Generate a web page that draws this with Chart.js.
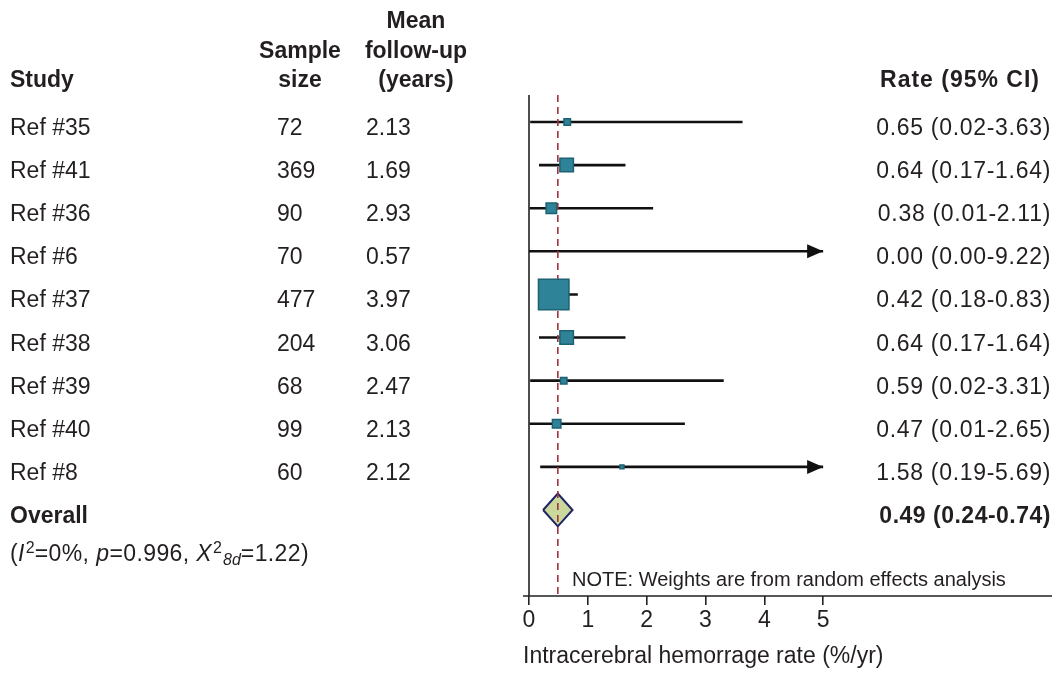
<!DOCTYPE html>
<html><head><meta charset="utf-8">
<script src="https://cdn.jsdelivr.net/npm/chart.js@4/dist/chart.umd.min.js"></script>
<style>html,body{margin:0;padding:0;background:#fff}canvas{display:block}</style>
</head><body>
<canvas id="c" width="1060" height="675"></canvas>
<script>
// ---------- data ----------
const studies    = ['Ref #35','Ref #41','Ref #36','Ref #6','Ref #37','Ref #38','Ref #39','Ref #40','Ref #8'];
const sampleSize = [72, 369, 90, 70, 477, 204, 68, 99, 60];
const followUp   = [2.13, 1.69, 2.93, 0.57, 3.97, 3.06, 2.47, 2.13, 2.12];
const rate       = [0.65, 0.64, 0.38, 0.00, 0.42, 0.64, 0.59, 0.47, 1.58];
const ciLow      = [0.02, 0.17, 0.01, 0.00, 0.18, 0.17, 0.02, 0.01, 0.19];
const ciHigh     = [3.63, 1.64, 2.11, 9.22, 0.83, 1.64, 3.31, 2.65, 5.69];
const weightPct  = [3.4, 12.0, 7.7, 0, 54.6, 12.0, 3.4, 5.3, 1.6];
const overall    = {rate: 0.49, low: 0.24, high: 0.74};
const hetero     = {I2: '0%', p: '0.996', df: '8d', chi2: '1.22'};
const xTicks     = [0, 1, 2, 3, 4, 5];
const arrowCap   = 5;
const xTitle     = 'Intracerebral hemorrage rate (%/yr)';
const noteText   = 'NOTE: Weights are from random effects analysis';

// ---------- style ----------
const FONT = '"Liberation Sans", Arial, Helvetica, sans-serif';
const TXT = '#231f20';
const BOX_FILL = '#2e8399', BOX_EDGE = '#1d6173';
const overallRow = studies.length;
const rowSpan = [-0.626, 10.995];
const diamondHalf = 0.38;

const datasets = [];
studies.forEach((s, i) => {
  datasets.push({
    label: 'ci' + i,
    data: [{x: ciLow[i], y: i}, {x: Math.min(ciHigh[i], arrowCap), y: i}],
    borderColor: '#111', borderWidth: 2.6, pointRadius: 0, fill: false, order: 5
  });
});
datasets.push({
  label: 'overall',
  data: [{x: overall.low, y: overallRow}, {x: overall.rate, y: overallRow - diamondHalf},
         {x: overall.high, y: overallRow}, {x: overall.rate, y: overallRow + diamondHalf},
         {x: overall.low, y: overallRow}],
  borderColor: '#1f2466', borderWidth: 2, backgroundColor: '#cbd89c',
  pointRadius: 0, fill: 'shape', order: 4
});
datasets.push({
  label: 'ref',
  data: [{x: overall.rate, y: rowSpan[0]}, {x: overall.rate, y: rowSpan[1]}],
  borderColor: '#a5313f', borderWidth: 1.6, borderDash: [7, 5], pointRadius: 0, fill: false, order: 3
});
datasets.push({
  label: 'boxes',
  data: studies.map((s, i) => ({x: rate[i], y: i})),
  showLine: false,
  pointStyle: 'rect',
  pointRadius: studies.map((s, i) => weightPct[i] > 0 ? (4.33 * Math.sqrt(weightPct[i]) - 1.5) / Math.SQRT2 : 0),
  pointBackgroundColor: BOX_FILL, pointBorderColor: BOX_EDGE, pointBorderWidth: 1.5,
  order: 1
});

function txt(ctx, s, x, y, opts = {}) {
  ctx.font = (opts.style || '') + ' ' + (opts.weight || 'normal') + ' ' + (opts.size || 23) + 'px ' + FONT;
  ctx.textAlign = opts.align || 'left';
  ctx.textBaseline = 'alphabetic';
  ctx.fillStyle = opts.color || TXT;
  ctx.letterSpacing = (opts.ls || 0) + 'px';
  ctx.fillText(s, x, y);
  const w = ctx.measureText(s).width;
  ctx.letterSpacing = '0px';
  return w;
}

const forest = {
  id: 'forest',
  beforeDatasetsDraw(chart) {
    const {ctx, scales: {x, y}, chartArea} = chart;
    ctx.save();
    ctx.strokeStyle = '#222'; ctx.lineWidth = 1.6;
    ctx.beginPath();
    ctx.moveTo(x.getPixelForValue(0), chartArea.top);
    ctx.lineTo(x.getPixelForValue(0), chartArea.bottom);
    ctx.moveTo(x.getPixelForValue(0) - 6, chartArea.bottom);
    ctx.lineTo(chartArea.right, chartArea.bottom);
    ctx.stroke();
    ctx.restore();
  },
  afterDatasetsDraw(chart) {
    const {ctx, scales: {x, y}} = chart;
    ctx.save();
    // arrows for truncated intervals
    ctx.fillStyle = '#111';
    studies.forEach((s, i) => {
      if (ciHigh[i] > arrowCap) {
        const tx = x.getPixelForValue(arrowCap), ty = y.getPixelForValue(i);
        ctx.beginPath();
        ctx.moveTo(tx, ty); ctx.lineTo(tx - 16, ty - 7); ctx.lineTo(tx - 16, ty + 7); ctx.closePath();
        ctx.fill();
      }
    });
    // headers
    txt(ctx, 'Study', 10, 86.5, {weight: 'bold'});
    txt(ctx, 'Sample', 300, 57.5, {weight: 'bold', align: 'center'});
    txt(ctx, 'size', 300, 86.5, {weight: 'bold', align: 'center'});
    txt(ctx, 'Mean', 416, 28, {weight: 'bold', align: 'center'});
    txt(ctx, 'follow-up', 416, 57.5, {weight: 'bold', align: 'center'});
    txt(ctx, '(years)', 416, 86.5, {weight: 'bold', align: 'center'});
    txt(ctx, 'Rate (95% CI)', 1040, 86.5, {weight: 'bold', align: 'right', ls: 1});
    // rows
    studies.forEach((s, i) => {
      const by = y.getPixelForValue(i) + 13;
      txt(ctx, s, 10, by);
      txt(ctx, String(sampleSize[i]), 277, by);
      txt(ctx, followUp[i].toFixed(2), 366, by);
      txt(ctx, rate[i].toFixed(2) + ' (' + ciLow[i].toFixed(2) + '-' + ciHigh[i].toFixed(2) + ')', 1051, by, {align: 'right', ls: 0.7});
    });
    const oy = y.getPixelForValue(overallRow) + 13;
    txt(ctx, 'Overall', 10, oy, {weight: 'bold'});
    txt(ctx, overall.rate.toFixed(2) + ' (' + overall.low.toFixed(2) + '-' + overall.high.toFixed(2) + ')', 1051, oy, {weight: 'bold', align: 'right', ls: 0.5});
    // heterogeneity line
    let hx = 10; const hy = oy + 38; const L = 0.4;
    hx += txt(ctx, '(', hx, hy, {ls: L});
    hx += txt(ctx, 'I', hx, hy, {style: 'italic', ls: L});
    hx += txt(ctx, '2', hx + 1, hy - 8, {size: 16}) + 1;
    hx += txt(ctx, '=' + hetero.I2 + ', ', hx, hy, {ls: L});
    hx += txt(ctx, 'p', hx, hy, {style: 'italic', ls: L});
    hx += txt(ctx, '=' + hetero.p + ', ', hx, hy, {ls: L});
    hx += txt(ctx, 'X', hx, hy, {style: 'italic', ls: L});
    hx += txt(ctx, '2', hx + 1, hy - 8, {size: 16}) + 2;
    hx += txt(ctx, hetero.df, hx, hy + 4, {size: 16, style: 'italic'});
    hx += txt(ctx, '=' + hetero.chi2 + ')', hx, hy, {ls: L});
    // note and axis title
    txt(ctx, noteText, 572, 586, {size: 20});
    txt(ctx, xTitle, 523, 663);
    ctx.restore();
  }
};

new Chart(document.getElementById('c'), {
  type: 'line',
  data: {datasets},
  options: {
    responsive: false,
    animation: false,
    layout: {padding: {left: 529, right: 8, top: 95, bottom: 0}},
    plugins: {legend: {display: false}, tooltip: {enabled: false}},
    elements: {line: {tension: 0}},
    scales: {
      x: {
        type: 'linear', min: 0, max: 8.89,
        afterBuildTicks: (s) => { s.ticks = xTicks.map(v => ({value: v})); },
        afterFit: (s) => { s.height = 79; },
        border: {display: false},
        grid: {display: true, drawOnChartArea: false, drawTicks: true, tickLength: 9, color: '#222', lineWidth: 1.6},
        ticks: {color: TXT, font: {family: FONT, size: 23}, padding: 2, maxRotation: 0}
      },
      y: {type: 'linear', min: rowSpan[0], max: rowSpan[1], reverse: true, display: false}
    }
  },
  plugins: [forest]
});
</script>
</body></html>
